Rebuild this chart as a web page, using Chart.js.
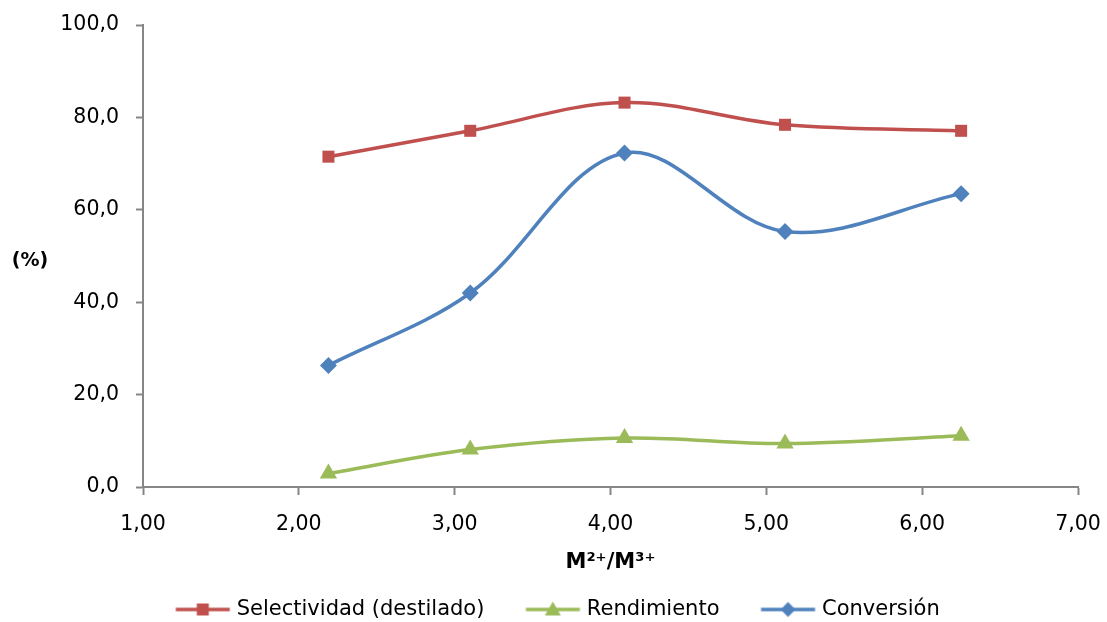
<!DOCTYPE html>
<html>
<head>
<meta charset="utf-8">
<script src="https://cdn.jsdelivr.net/npm/chart.js@4.4.1/dist/chart.umd.min.js"></script>
<style>
  html, body { margin: 0; padding: 0; background: #fff; }
  #wrap { width: 1107px; height: 622px; }
</style>
</head>
<body>
<div id="wrap"><canvas id="myChart" width="1107" height="622"></canvas></div>
<script>
// values
const ratios = [2.19, 3.10, 4.09, 5.12, 6.25];          // M2+/M3+
const selectividad = [71.5, 77.1, 83.2, 78.4, 77.1];
const rendimiento = [2.9, 8.1, 10.6, 9.4, 11.1];
const conversion = [26.3, 42.0, 72.3, 55.3, 63.5];

const xTicks = [1, 2, 3, 4, 5, 6, 7];
const yTicks = [0, 20, 40, 60, 80, 100];

const FONT = "'DejaVu Sans', sans-serif";
const axisColor = '#868686';

function toPoints(values) {
  return values.map((v, i) => ({ x: ratios[i], y: v }));
}

// small icon for the legend: line with the marker in the middle
function legendIcon(color, style) {
  const c = document.createElement('canvas');
  c.width = 100;
  c.height = 18;
  const g = c.getContext('2d');
  g.strokeStyle = color;
  g.lineWidth = 3.5;
  g.beginPath();
  g.moveTo(43.5, 9);
  g.lineTo(97.5, 9);
  g.stroke();
  g.fillStyle = color;
  g.beginPath();
  const cx = 70.5, cy = 9;
  if (style === 'rect') {
    g.rect(cx - 6, cy - 6, 12, 12);
  } else if (style === 'triangle') {
    g.moveTo(cx, cy - 8);
    g.lineTo(cx + 8, cy + 6);
    g.lineTo(cx - 8, cy + 6);
    g.closePath();
  } else {
    g.moveTo(cx, cy - 7.5);
    g.lineTo(cx + 7.5, cy);
    g.lineTo(cx, cy + 7.5);
    g.lineTo(cx - 7.5, cy);
    g.closePath();
  }
  g.fill();
  return c;
}

// y axis title is horizontal in the original
const yTitlePlugin = {
  id: 'yTitle',
  afterDraw(chart) {
    const c = chart.ctx;
    const y = chart.scales.y;
    c.save();
    c.font = 'bold 19px ' + FONT;
    c.fillStyle = '#000';
    c.textAlign = 'center';
    c.textBaseline = 'middle';
    c.fillText('(%)', 30, y.getPixelForValue(49));
    c.restore();
  }
};

const ctx = document.getElementById('myChart').getContext('2d');

let myChart = new Chart(ctx, {
  type: 'scatter',
  data: {
    datasets: [{
      label: 'Selectividad (destilado)',
      data: toPoints(selectividad),
      borderColor: '#C0504D',
      backgroundColor: '#C0504D',
      pointStyle: 'rect',
      pointRadius: 8.5,
      icon: legendIcon('#C0504D', 'rect')
    },
    {
      label: 'Rendimiento',
      data: toPoints(rendimiento),
      borderColor: '#9BBB59',
      backgroundColor: '#9BBB59',
      pointStyle: 'triangle',
      pointRadius: 10,
      icon: legendIcon('#9BBB59', 'triangle')
    },
    {
      label: 'Conversión',
      data: toPoints(conversion),
      borderColor: '#4F81BD',
      backgroundColor: '#4F81BD',
      pointStyle: 'rectRot',
      pointRadius: 8.5,
      icon: legendIcon('#4F81BD', 'rectRot')
    }]
  },
  options: {
    responsive: false,
    animation: false,
    showLine: true,
    elements: {
      line: { borderWidth: 3.5, tension: 0.35 },
      point: { borderWidth: 0, hoverRadius: 8 }
    },
    layout: {
      padding: { left: 0, right: 29, top: 25, bottom: -8 }
    },
    scales: {
      x: {
        type: 'linear',
        min: 1,
        max: 7,
        afterFit(scale) {
          scale.height = 108;
          scale.paddingLeft = 0;
          scale.paddingRight = 0;
        },
        afterBuildTicks(scale) { scale.ticks = xTicks.map(v => ({ value: v })); },
        grid: {
          drawOnChartArea: false,
          drawTicks: true,
          tickLength: 8,
          tickWidth: 2,
          color: axisColor
        },
        border: { display: true, color: axisColor, width: 2 },
        ticks: {
          padding: 17,
          color: '#000',
          font: { family: FONT, size: 20.5 },
          callback: v => v.toFixed(2).replace('.', ',')
        },
        title: {
          display: true,
          text: 'M²⁺/M³⁺',
          color: '#000',
          font: { family: FONT, size: 21, weight: 'bold' },
          padding: { top: 0, bottom: 20 }
        }
      },
      y: {
        min: 0,
        max: 100,
        afterFit(scale) {
          scale.width = 143;
          scale.paddingTop = 0;
          scale.paddingBottom = 0;
        },
        afterBuildTicks(scale) { scale.ticks = yTicks.map(v => ({ value: v })); },
        grid: {
          drawOnChartArea: false,
          drawTicks: true,
          tickLength: 7,
          tickWidth: 2,
          color: axisColor
        },
        border: { display: true, color: axisColor, width: 2 },
        ticks: {
          padding: 17,
          color: '#000',
          font: { family: FONT, size: 20.5 },
          callback: v => v.toFixed(1).replace('.', ',')
        }
      }
    },
    plugins: {
      tooltip: { enabled: false },
      legend: {
        display: true,
        position: 'bottom',
        labels: {
          usePointStyle: true,
          pointStyleWidth: 88,
          boxHeight: 18,
          padding: 4,
          color: '#000',
          font: { family: FONT, size: 21 },
          generateLabels(chart) {
            return chart.data.datasets.map((ds, i) => ({
              text: ds.label,
              pointStyle: ds.icon,
              fillStyle: ds.borderColor,
              strokeStyle: ds.borderColor,
              fontColor: '#000',
              lineWidth: 0,
              hidden: false,
              datasetIndex: i
            }));
          }
        }
      }
    }
  },
  plugins: [yTitlePlugin]
});
</script>
</body>
</html>
